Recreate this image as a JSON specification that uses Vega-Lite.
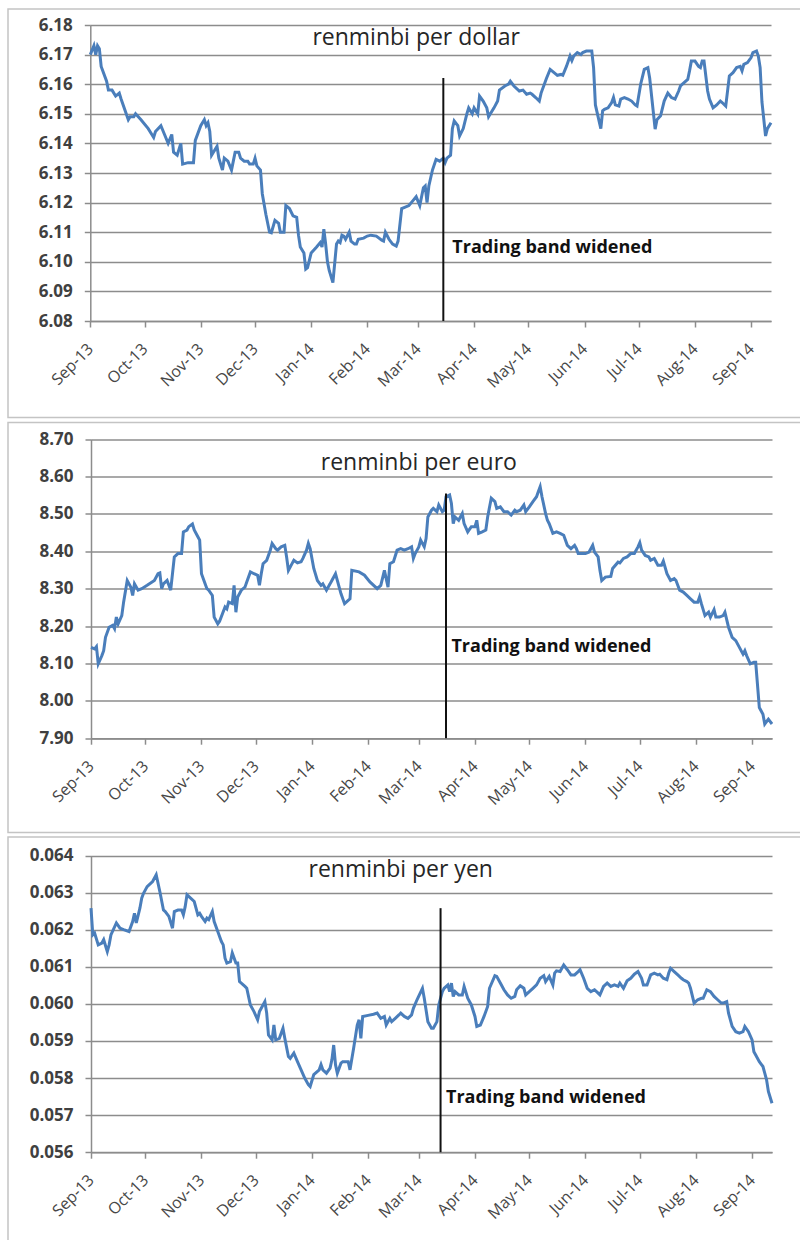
{
  "$schema": "https://vega.github.io/schema/vega-lite/v6.json",
  "padding": {"left": 7, "top": 8, "right": 0, "bottom": 0},
  "spacing": 4.5,
  "bounds": "flush",
  "background": "white",
  "config": {
    "axis": {
      "domainColor": "#8c8c8c", "domainWidth": 1.5,
      "tickColor": "#8c8c8c", "tickWidth": 1.5, "tickSize": 6,
      "gridColor": "#8c8c8c", "gridWidth": 1.5,
      "labelFont": "Open Sans", "labelColor": "#404040",
      "labelOverlap": false, "labelFlush": false, "labelBound": false,
      "title": null
    },
    "axisX": {"grid": false, "labelAngle": -45, "labelAlign": "right", "labelBaseline": "middle", "labelFontSize": 16, "labelPadding": 19, "labelColor": "#474747"},
    "axisY": {"grid": true, "labelFontSize": 17, "labelFontWeight": "bold", "labelPadding": 12}
  },
  "datasets": {
    "usd": [
      {"date":"2013-09-01","value":6.170},{"date":"2013-09-03","value":6.173},{"date":"2013-09-04","value":6.170},{"date":"2013-09-05","value":6.173},{"date":"2013-09-06","value":6.172},{"date":"2013-09-07","value":6.166},{"date":"2013-09-10","value":6.161},{"date":"2013-09-11","value":6.158},{"date":"2013-09-13","value":6.158},{"date":"2013-09-15","value":6.156},{"date":"2013-09-17","value":6.157},{"date":"2013-09-18","value":6.155},{"date":"2013-09-22","value":6.148},{"date":"2013-09-23","value":6.149},{"date":"2013-09-25","value":6.149},{"date":"2013-09-26","value":6.150},{"date":"2013-09-29","value":6.148},
      {"date":"2013-10-03","value":6.145},{"date":"2013-10-06","value":6.142},{"date":"2013-10-07","value":6.144},{"date":"2013-10-10","value":6.146},{"date":"2013-10-12","value":6.143},{"date":"2013-10-14","value":6.140},{"date":"2013-10-16","value":6.143},{"date":"2013-10-17","value":6.137},{"date":"2013-10-19","value":6.136},{"date":"2013-10-21","value":6.140},{"date":"2013-10-22","value":6.133},{"date":"2013-10-25","value":6.1335},{"date":"2013-10-28","value":6.1335},{"date":"2013-10-29","value":6.141},
      {"date":"2013-11-01","value":6.146},{"date":"2013-11-03","value":6.148},{"date":"2013-11-04","value":6.146},{"date":"2013-11-05","value":6.147},{"date":"2013-11-06","value":6.144},{"date":"2013-11-07","value":6.136},{"date":"2013-11-08","value":6.137},{"date":"2013-11-10","value":6.139},{"date":"2013-11-11","value":6.135},{"date":"2013-11-13","value":6.131},{"date":"2013-11-14","value":6.135},{"date":"2013-11-16","value":6.134},{"date":"2013-11-18","value":6.131},{"date":"2013-11-19","value":6.134},{"date":"2013-11-20","value":6.137},{"date":"2013-11-22","value":6.137},{"date":"2013-11-23","value":6.135},{"date":"2013-11-25","value":6.134},{"date":"2013-11-27","value":6.134},{"date":"2013-11-28","value":6.133},{"date":"2013-11-30","value":6.133},
      {"date":"2013-12-01","value":6.135},{"date":"2013-12-02","value":6.1324},{"date":"2013-12-04","value":6.131},{"date":"2013-12-05","value":6.123},{"date":"2013-12-07","value":6.116},{"date":"2013-12-09","value":6.110},{"date":"2013-12-10","value":6.1098},{"date":"2013-12-12","value":6.114},{"date":"2013-12-14","value":6.113},{"date":"2013-12-15","value":6.110},{"date":"2013-12-17","value":6.110},{"date":"2013-12-18","value":6.119},{"date":"2013-12-20","value":6.118},{"date":"2013-12-22","value":6.1155},{"date":"2013-12-24","value":6.115},{"date":"2013-12-25","value":6.109},{"date":"2013-12-26","value":6.105},{"date":"2013-12-28","value":6.103},{"date":"2013-12-29","value":6.0975},{"date":"2013-12-30","value":6.098},
      {"date":"2014-01-01","value":6.103},{"date":"2014-01-04","value":6.105},{"date":"2014-01-06","value":6.1065},{"date":"2014-01-07","value":6.105},{"date":"2014-01-08","value":6.111},{"date":"2014-01-09","value":6.106},{"date":"2014-01-10","value":6.100},{"date":"2014-01-11","value":6.097},{"date":"2014-01-13","value":6.093},{"date":"2014-01-15","value":6.106},{"date":"2014-01-16","value":6.107},{"date":"2014-01-17","value":6.1065},{"date":"2014-01-18","value":6.109},{"date":"2014-01-19","value":6.1087},{"date":"2014-01-20","value":6.1076},{"date":"2014-01-22","value":6.110},{"date":"2014-01-23","value":6.107},{"date":"2014-01-25","value":6.106},{"date":"2014-01-26","value":6.106},{"date":"2014-01-27","value":6.1076},{"date":"2014-01-30","value":6.108},
      {"date":"2014-02-01","value":6.1087},{"date":"2014-02-03","value":6.109},{"date":"2014-02-06","value":6.1087},{"date":"2014-02-09","value":6.1073},{"date":"2014-02-10","value":6.107},{"date":"2014-02-11","value":6.110},{"date":"2014-02-13","value":6.1076},{"date":"2014-02-15","value":6.106},{"date":"2014-02-17","value":6.1053},{"date":"2014-02-18","value":6.107},{"date":"2014-02-20","value":6.118},{"date":"2014-02-24","value":6.119},{"date":"2014-02-26","value":6.1205},{"date":"2014-02-28","value":6.122},
      {"date":"2014-03-01","value":6.1205},{"date":"2014-03-02","value":6.119},{"date":"2014-03-04","value":6.125},{"date":"2014-03-05","value":6.1256},{"date":"2014-03-06","value":6.120},{"date":"2014-03-07","value":6.1256},{"date":"2014-03-09","value":6.131},{"date":"2014-03-11","value":6.1346},{"date":"2014-03-13","value":6.134},{"date":"2014-03-15","value":6.135},{"date":"2014-03-16","value":6.1335},{"date":"2014-03-17","value":6.135},{"date":"2014-03-19","value":6.136},{"date":"2014-03-20","value":6.145},{"date":"2014-03-21","value":6.1476},{"date":"2014-03-23","value":6.146},{"date":"2014-03-24","value":6.1425},{"date":"2014-03-26","value":6.145},{"date":"2014-03-28","value":6.150},{"date":"2014-03-29","value":6.152},{"date":"2014-03-31","value":6.150},
      {"date":"2014-04-01","value":6.152},{"date":"2014-04-03","value":6.150},{"date":"2014-04-04","value":6.156},{"date":"2014-04-06","value":6.1543},{"date":"2014-04-08","value":6.152},{"date":"2014-04-09","value":6.149},{"date":"2014-04-10","value":6.150},{"date":"2014-04-12","value":6.152},{"date":"2014-04-14","value":6.1543},{"date":"2014-04-15","value":6.158},{"date":"2014-04-18","value":6.1594},{"date":"2014-04-20","value":6.160},{"date":"2014-04-21","value":6.161},{"date":"2014-04-23","value":6.1594},{"date":"2014-04-26","value":6.1577},{"date":"2014-04-28","value":6.158},{"date":"2014-04-30","value":6.1566},
      {"date":"2014-05-02","value":6.157},{"date":"2014-05-03","value":6.1566},{"date":"2014-05-05","value":6.1555},{"date":"2014-05-07","value":6.1543},{"date":"2014-05-08","value":6.157},{"date":"2014-05-11","value":6.162},{"date":"2014-05-13","value":6.165},{"date":"2014-05-15","value":6.164},{"date":"2014-05-17","value":6.163},{"date":"2014-05-19","value":6.1633},{"date":"2014-05-20","value":6.163},{"date":"2014-05-22","value":6.166},{"date":"2014-05-24","value":6.1695},{"date":"2014-05-25","value":6.168},{"date":"2014-05-26","value":6.1695},{"date":"2014-05-28","value":6.1707},{"date":"2014-05-30","value":6.170},{"date":"2014-05-31","value":6.1707},
      {"date":"2014-06-02","value":6.1712},{"date":"2014-06-05","value":6.1712},{"date":"2014-06-06","value":6.1656},{"date":"2014-06-07","value":6.153},{"date":"2014-06-10","value":6.145},{"date":"2014-06-11","value":6.151},{"date":"2014-06-12","value":6.1515},{"date":"2014-06-14","value":6.152},{"date":"2014-06-16","value":6.1538},{"date":"2014-06-17","value":6.1555},{"date":"2014-06-18","value":6.153},{"date":"2014-06-20","value":6.1526},{"date":"2014-06-21","value":6.155},{"date":"2014-06-23","value":6.1555},{"date":"2014-06-25","value":6.155},{"date":"2014-06-27","value":6.1543},{"date":"2014-06-29","value":6.153},{"date":"2014-06-30","value":6.1526},
      {"date":"2014-07-02","value":6.160},{"date":"2014-07-04","value":6.165},{"date":"2014-07-06","value":6.1656},{"date":"2014-07-07","value":6.162},{"date":"2014-07-10","value":6.1448},{"date":"2014-07-11","value":6.148},{"date":"2014-07-13","value":6.1493},{"date":"2014-07-15","value":6.1543},{"date":"2014-07-17","value":6.157},{"date":"2014-07-19","value":6.1555},{"date":"2014-07-21","value":6.155},{"date":"2014-07-23","value":6.1577},{"date":"2014-07-24","value":6.1594},{"date":"2014-07-26","value":6.1605},{"date":"2014-07-28","value":6.1616},{"date":"2014-07-29","value":6.1645},{"date":"2014-07-30","value":6.1678},
      {"date":"2014-08-01","value":6.1678},{"date":"2014-08-03","value":6.166},{"date":"2014-08-04","value":6.1656},{"date":"2014-08-05","value":6.1678},{"date":"2014-08-06","value":6.1678},{"date":"2014-08-08","value":6.1577},{"date":"2014-08-09","value":6.155},{"date":"2014-08-11","value":6.152},{"date":"2014-08-13","value":6.153},{"date":"2014-08-15","value":6.1543},{"date":"2014-08-16","value":6.1538},{"date":"2014-08-18","value":6.1526},{"date":"2014-08-20","value":6.1628},{"date":"2014-08-22","value":6.1639},{"date":"2014-08-24","value":6.1656},{"date":"2014-08-26","value":6.166},{"date":"2014-08-27","value":6.1645},{"date":"2014-08-28","value":6.1667},{"date":"2014-08-30","value":6.1673},
      {"date":"2014-09-01","value":6.169},{"date":"2014-09-02","value":6.1707},{"date":"2014-09-04","value":6.1712},{"date":"2014-09-05","value":6.1695},{"date":"2014-09-06","value":6.1656},{"date":"2014-09-07","value":6.154},{"date":"2014-09-09","value":6.1425},{"date":"2014-09-10","value":6.145},{"date":"2014-09-12","value":6.147}
    ],
    "eur": [
      {"date":"2013-09-01","value":8.143},{"date":"2013-09-03","value":8.139},{"date":"2013-09-04","value":8.145},{"date":"2013-09-05","value":8.099},{"date":"2013-09-07","value":8.121},{"date":"2013-09-08","value":8.134},{"date":"2013-09-09","value":8.170},{"date":"2013-09-11","value":8.197},{"date":"2013-09-13","value":8.202},{"date":"2013-09-14","value":8.193},{"date":"2013-09-15","value":8.224},{"date":"2013-09-16","value":8.206},{"date":"2013-09-18","value":8.228},{"date":"2013-09-19","value":8.264},{"date":"2013-09-21","value":8.322},{"date":"2013-09-23","value":8.304},{"date":"2013-09-24","value":8.282},{"date":"2013-09-25","value":8.313},{"date":"2013-09-27","value":8.296},{"date":"2013-09-29","value":8.300},
      {"date":"2013-10-02","value":8.309},{"date":"2013-10-06","value":8.322},{"date":"2013-10-08","value":8.340},{"date":"2013-10-09","value":8.342},{"date":"2013-10-10","value":8.300},{"date":"2013-10-11","value":8.313},{"date":"2013-10-13","value":8.322},{"date":"2013-10-14","value":8.309},{"date":"2013-10-15","value":8.296},{"date":"2013-10-17","value":8.385},{"date":"2013-10-19","value":8.394},{"date":"2013-10-21","value":8.394},{"date":"2013-10-22","value":8.452},{"date":"2013-10-24","value":8.457},{"date":"2013-10-25","value":8.466},{"date":"2013-10-27","value":8.473},{"date":"2013-10-28","value":8.457},{"date":"2013-10-30","value":8.439},{"date":"2013-10-31","value":8.430},
      {"date":"2013-11-01","value":8.340},{"date":"2013-11-03","value":8.313},{"date":"2013-11-04","value":8.300},{"date":"2013-11-05","value":8.296},{"date":"2013-11-07","value":8.282},{"date":"2013-11-08","value":8.224},{"date":"2013-11-10","value":8.206},{"date":"2013-11-11","value":8.213},{"date":"2013-11-14","value":8.251},{"date":"2013-11-15","value":8.246},{"date":"2013-11-16","value":8.264},{"date":"2013-11-18","value":8.260},{"date":"2013-11-19","value":8.309},{"date":"2013-11-20","value":8.237},{"date":"2013-11-21","value":8.278},{"date":"2013-11-23","value":8.296},{"date":"2013-11-25","value":8.304},{"date":"2013-11-26","value":8.318},{"date":"2013-11-28","value":8.345},{"date":"2013-11-30","value":8.340},
      {"date":"2013-12-02","value":8.336},{"date":"2013-12-03","value":8.309},{"date":"2013-12-04","value":8.340},{"date":"2013-12-05","value":8.367},{"date":"2013-12-07","value":8.376},{"date":"2013-12-09","value":8.403},{"date":"2013-12-10","value":8.421},{"date":"2013-12-12","value":8.407},{"date":"2013-12-13","value":8.403},{"date":"2013-12-15","value":8.412},{"date":"2013-12-17","value":8.416},{"date":"2013-12-18","value":8.385},{"date":"2013-12-19","value":8.349},{"date":"2013-12-21","value":8.367},{"date":"2013-12-22","value":8.376},{"date":"2013-12-24","value":8.369},{"date":"2013-12-26","value":8.372},{"date":"2013-12-27","value":8.381},{"date":"2013-12-29","value":8.403},{"date":"2013-12-30","value":8.421},{"date":"2013-12-31","value":8.407},
      {"date":"2014-01-02","value":8.354},{"date":"2014-01-04","value":8.322},{"date":"2014-01-06","value":8.309},{"date":"2014-01-07","value":8.313},{"date":"2014-01-09","value":8.296},{"date":"2014-01-11","value":8.313},{"date":"2014-01-12","value":8.322},{"date":"2014-01-14","value":8.340},{"date":"2014-01-15","value":8.322},{"date":"2014-01-17","value":8.287},{"date":"2014-01-19","value":8.260},{"date":"2014-01-21","value":8.269},{"date":"2014-01-22","value":8.273},{"date":"2014-01-23","value":8.349},{"date":"2014-01-27","value":8.345},{"date":"2014-01-30","value":8.336},
      {"date":"2014-02-02","value":8.318},{"date":"2014-02-06","value":8.300},{"date":"2014-02-08","value":8.309},{"date":"2014-02-10","value":8.349},{"date":"2014-02-12","value":8.304},{"date":"2014-02-13","value":8.367},{"date":"2014-02-15","value":8.372},{"date":"2014-02-17","value":8.403},{"date":"2014-02-19","value":8.407},{"date":"2014-02-21","value":8.403},{"date":"2014-02-23","value":8.407},{"date":"2014-02-25","value":8.412},{"date":"2014-02-26","value":8.381},{"date":"2014-02-27","value":8.394},
      {"date":"2014-03-01","value":8.412},{"date":"2014-03-02","value":8.430},{"date":"2014-03-04","value":8.412},{"date":"2014-03-05","value":8.434},{"date":"2014-03-06","value":8.492},{"date":"2014-03-08","value":8.510},{"date":"2014-03-09","value":8.515},{"date":"2014-03-11","value":8.506},{"date":"2014-03-12","value":8.524},{"date":"2014-03-14","value":8.506},{"date":"2014-03-15","value":8.510},{"date":"2014-03-16","value":8.546},{"date":"2014-03-18","value":8.551},{"date":"2014-03-19","value":8.528},{"date":"2014-03-20","value":8.474},{"date":"2014-03-21","value":8.492},{"date":"2014-03-23","value":8.483},{"date":"2014-03-25","value":8.501},{"date":"2014-03-26","value":8.474},{"date":"2014-03-28","value":8.452},{"date":"2014-03-30","value":8.466},
      {"date":"2014-04-01","value":8.466},{"date":"2014-04-02","value":8.483},{"date":"2014-04-03","value":8.448},{"date":"2014-04-05","value":8.452},{"date":"2014-04-07","value":8.457},{"date":"2014-04-08","value":8.492},{"date":"2014-04-10","value":8.542},{"date":"2014-04-12","value":8.533},{"date":"2014-04-13","value":8.515},{"date":"2014-04-15","value":8.519},{"date":"2014-04-17","value":8.506},{"date":"2014-04-19","value":8.506},{"date":"2014-04-21","value":8.497},{"date":"2014-04-23","value":8.510},{"date":"2014-04-24","value":8.506},{"date":"2014-04-26","value":8.510},{"date":"2014-04-28","value":8.524},{"date":"2014-04-29","value":8.506},
      {"date":"2014-05-01","value":8.519},{"date":"2014-05-03","value":8.533},{"date":"2014-05-05","value":8.546},{"date":"2014-05-06","value":8.560},{"date":"2014-05-07","value":8.573},{"date":"2014-05-08","value":8.546},{"date":"2014-05-10","value":8.501},{"date":"2014-05-11","value":8.483},{"date":"2014-05-12","value":8.474},{"date":"2014-05-14","value":8.448},{"date":"2014-05-16","value":8.452},{"date":"2014-05-18","value":8.448},{"date":"2014-05-20","value":8.443},{"date":"2014-05-22","value":8.416},{"date":"2014-05-24","value":8.407},{"date":"2014-05-26","value":8.416},{"date":"2014-05-27","value":8.407},{"date":"2014-05-28","value":8.394},{"date":"2014-05-30","value":8.394},
      {"date":"2014-06-01","value":8.394},{"date":"2014-06-03","value":8.398},{"date":"2014-06-05","value":8.416},{"date":"2014-06-06","value":8.398},{"date":"2014-06-08","value":8.385},{"date":"2014-06-09","value":8.349},{"date":"2014-06-10","value":8.322},{"date":"2014-06-12","value":8.331},{"date":"2014-06-15","value":8.333},{"date":"2014-06-16","value":8.354},{"date":"2014-06-19","value":8.371},{"date":"2014-06-20","value":8.369},{"date":"2014-06-22","value":8.381},{"date":"2014-06-24","value":8.385},{"date":"2014-06-26","value":8.394},{"date":"2014-06-28","value":8.394},{"date":"2014-06-30","value":8.412},
      {"date":"2014-07-01","value":8.423},{"date":"2014-07-02","value":8.403},{"date":"2014-07-04","value":8.389},{"date":"2014-07-06","value":8.385},{"date":"2014-07-07","value":8.376},{"date":"2014-07-09","value":8.381},{"date":"2014-07-11","value":8.363},{"date":"2014-07-13","value":8.363},{"date":"2014-07-14","value":8.374},{"date":"2014-07-16","value":8.340},{"date":"2014-07-18","value":8.322},{"date":"2014-07-20","value":8.327},{"date":"2014-07-21","value":8.322},{"date":"2014-07-23","value":8.296},{"date":"2014-07-25","value":8.291},{"date":"2014-07-27","value":8.282},{"date":"2014-07-29","value":8.273},{"date":"2014-07-31","value":8.264},
      {"date":"2014-08-02","value":8.264},{"date":"2014-08-03","value":8.278},{"date":"2014-08-04","value":8.260},{"date":"2014-08-06","value":8.228},{"date":"2014-08-08","value":8.237},{"date":"2014-08-09","value":8.224},{"date":"2014-08-11","value":8.244},{"date":"2014-08-12","value":8.224},{"date":"2014-08-14","value":8.224},{"date":"2014-08-16","value":8.228},{"date":"2014-08-17","value":8.237},{"date":"2014-08-19","value":8.197},{"date":"2014-08-21","value":8.170},{"date":"2014-08-23","value":8.161},{"date":"2014-08-25","value":8.143},{"date":"2014-08-27","value":8.125},{"date":"2014-08-28","value":8.134},{"date":"2014-08-29","value":8.121},{"date":"2014-08-31","value":8.099},
      {"date":"2014-09-02","value":8.103},{"date":"2014-09-03","value":8.103},{"date":"2014-09-05","value":7.982},{"date":"2014-09-07","value":7.964},{"date":"2014-09-08","value":7.938},{"date":"2014-09-10","value":7.951},{"date":"2014-09-12","value":7.938}
    ],
    "jpy": [
      {"date":"2013-09-01","value":0.06258},{"date":"2013-09-02","value":0.06186},{"date":"2013-09-03","value":0.06191},{"date":"2013-09-05","value":0.06159},{"date":"2013-09-07","value":0.06164},{"date":"2013-09-08","value":0.06173},{"date":"2013-09-10","value":0.06141},{"date":"2013-09-11","value":0.06159},{"date":"2013-09-12","value":0.06186},{"date":"2013-09-15","value":0.06218},{"date":"2013-09-17","value":0.06204},{"date":"2013-09-19","value":0.06200},{"date":"2013-09-22","value":0.06195},{"date":"2013-09-24","value":0.06222},{"date":"2013-09-25","value":0.06244},{"date":"2013-09-26","value":0.06218},{"date":"2013-09-28","value":0.06258},{"date":"2013-09-29","value":0.06285},{"date":"2013-09-30","value":0.06298},
      {"date":"2013-10-02","value":0.06316},{"date":"2013-10-05","value":0.06330},{"date":"2013-10-07","value":0.06348},{"date":"2013-10-09","value":0.06303},{"date":"2013-10-11","value":0.06253},{"date":"2013-10-12","value":0.06249},{"date":"2013-10-14","value":0.06236},{"date":"2013-10-16","value":0.06204},{"date":"2013-10-17","value":0.06249},{"date":"2013-10-19","value":0.06253},{"date":"2013-10-21","value":0.06253},{"date":"2013-10-22","value":0.06240},{"date":"2013-10-23","value":0.06262},{"date":"2013-10-24","value":0.06294},{"date":"2013-10-26","value":0.06285},{"date":"2013-10-28","value":0.06276},{"date":"2013-10-30","value":0.06240},{"date":"2013-10-31","value":0.06244},
      {"date":"2013-11-01","value":0.06236},{"date":"2013-11-03","value":0.06222},{"date":"2013-11-04","value":0.06231},{"date":"2013-11-05","value":0.06227},{"date":"2013-11-07","value":0.06249},{"date":"2013-11-08","value":0.06222},{"date":"2013-11-10","value":0.06195},{"date":"2013-11-12","value":0.06168},{"date":"2013-11-13","value":0.06159},{"date":"2013-11-14","value":0.06123},{"date":"2013-11-15","value":0.06110},{"date":"2013-11-17","value":0.06114},{"date":"2013-11-18","value":0.06137},{"date":"2013-11-20","value":0.06110},{"date":"2013-11-21","value":0.06110},{"date":"2013-11-22","value":0.06060},{"date":"2013-11-25","value":0.06047},{"date":"2013-11-26","value":0.06042},{"date":"2013-11-28","value":0.05997},{"date":"2013-11-30","value":0.05979},
      {"date":"2013-12-02","value":0.05957},{"date":"2013-12-03","value":0.05979},{"date":"2013-12-04","value":0.05988},{"date":"2013-12-06","value":0.06006},{"date":"2013-12-07","value":0.05975},{"date":"2013-12-08","value":0.05916},{"date":"2013-12-10","value":0.05903},{"date":"2013-12-11","value":0.05943},{"date":"2013-12-12","value":0.05903},{"date":"2013-12-14","value":0.05907},{"date":"2013-12-16","value":0.05934},{"date":"2013-12-17","value":0.05907},{"date":"2013-12-19","value":0.05858},{"date":"2013-12-20","value":0.05853},{"date":"2013-12-22","value":0.05867},{"date":"2013-12-24","value":0.05844},{"date":"2013-12-26","value":0.05822},{"date":"2013-12-28","value":0.05800},{"date":"2013-12-30","value":0.05782},{"date":"2013-12-31","value":0.05777},
      {"date":"2014-01-02","value":0.05809},{"date":"2014-01-05","value":0.05822},{"date":"2014-01-06","value":0.05836},{"date":"2014-01-07","value":0.05822},{"date":"2014-01-09","value":0.05813},{"date":"2014-01-11","value":0.05827},{"date":"2014-01-12","value":0.05849},{"date":"2014-01-13","value":0.05889},{"date":"2014-01-14","value":0.05836},{"date":"2014-01-15","value":0.05813},{"date":"2014-01-17","value":0.05840},{"date":"2014-01-18","value":0.05844},{"date":"2014-01-21","value":0.05844},{"date":"2014-01-22","value":0.05822},{"date":"2014-01-24","value":0.05880},{"date":"2014-01-26","value":0.05943},{"date":"2014-01-27","value":0.05957},{"date":"2014-01-28","value":0.05907},{"date":"2014-01-29","value":0.05966},
      {"date":"2014-02-01","value":0.05969},{"date":"2014-02-04","value":0.05972},{"date":"2014-02-06","value":0.05975},{"date":"2014-02-08","value":0.05961},{"date":"2014-02-10","value":0.05966},{"date":"2014-02-11","value":0.05943},{"date":"2014-02-13","value":0.05961},{"date":"2014-02-14","value":0.05952},{"date":"2014-02-16","value":0.05961},{"date":"2014-02-18","value":0.05970},{"date":"2014-02-19","value":0.05975},{"date":"2014-02-21","value":0.05966},{"date":"2014-02-23","value":0.05961},{"date":"2014-02-25","value":0.05970},{"date":"2014-02-26","value":0.05988},{"date":"2014-02-28","value":0.06011},
      {"date":"2014-03-03","value":0.06042},{"date":"2014-03-04","value":0.06015},{"date":"2014-03-06","value":0.05952},{"date":"2014-03-08","value":0.05934},{"date":"2014-03-09","value":0.05934},{"date":"2014-03-11","value":0.05952},{"date":"2014-03-12","value":0.05997},{"date":"2014-03-14","value":0.06033},{"date":"2014-03-15","value":0.06042},{"date":"2014-03-17","value":0.06051},{"date":"2014-03-18","value":0.06033},{"date":"2014-03-19","value":0.06056},{"date":"2014-03-20","value":0.06020},{"date":"2014-03-21","value":0.06033},{"date":"2014-03-23","value":0.06024},{"date":"2014-03-25","value":0.06024},{"date":"2014-03-26","value":0.06047},{"date":"2014-03-28","value":0.06015},{"date":"2014-03-30","value":0.05997},
      {"date":"2014-04-01","value":0.05966},{"date":"2014-04-02","value":0.05939},{"date":"2014-04-04","value":0.05943},{"date":"2014-04-06","value":0.05966},{"date":"2014-04-08","value":0.05993},{"date":"2014-04-09","value":0.06042},{"date":"2014-04-12","value":0.06076},{"date":"2014-04-13","value":0.06074},{"date":"2014-04-15","value":0.06056},{"date":"2014-04-17","value":0.06038},{"date":"2014-04-19","value":0.06024},{"date":"2014-04-21","value":0.06015},{"date":"2014-04-23","value":0.06020},{"date":"2014-04-24","value":0.06038},{"date":"2014-04-26","value":0.06049},{"date":"2014-04-28","value":0.06042},{"date":"2014-04-29","value":0.06024},
      {"date":"2014-05-01","value":0.06033},{"date":"2014-05-03","value":0.06042},{"date":"2014-05-05","value":0.06051},{"date":"2014-05-06","value":0.06060},{"date":"2014-05-07","value":0.06069},{"date":"2014-05-09","value":0.06076},{"date":"2014-05-10","value":0.06060},{"date":"2014-05-12","value":0.06074},{"date":"2014-05-14","value":0.06051},{"date":"2014-05-15","value":0.06083},{"date":"2014-05-16","value":0.06089},{"date":"2014-05-18","value":0.06087},{"date":"2014-05-20","value":0.06105},{"date":"2014-05-22","value":0.06092},{"date":"2014-05-24","value":0.06078},{"date":"2014-05-26","value":0.06078},{"date":"2014-05-28","value":0.06087},{"date":"2014-05-29","value":0.06092},{"date":"2014-05-31","value":0.06069},
      {"date":"2014-06-02","value":0.06042},{"date":"2014-06-04","value":0.06033},{"date":"2014-06-06","value":0.06038},{"date":"2014-06-08","value":0.06029},{"date":"2014-06-09","value":0.06024},{"date":"2014-06-11","value":0.06047},{"date":"2014-06-13","value":0.06056},{"date":"2014-06-15","value":0.06047},{"date":"2014-06-17","value":0.06051},{"date":"2014-06-19","value":0.06047},{"date":"2014-06-20","value":0.06056},{"date":"2014-06-22","value":0.06042},{"date":"2014-06-24","value":0.06062},{"date":"2014-06-26","value":0.06069},{"date":"2014-06-28","value":0.06080},{"date":"2014-06-30","value":0.06087},
      {"date":"2014-07-02","value":0.06069},{"date":"2014-07-03","value":0.06051},{"date":"2014-07-05","value":0.06051},{"date":"2014-07-07","value":0.06078},{"date":"2014-07-09","value":0.06083},{"date":"2014-07-11","value":0.06078},{"date":"2014-07-12","value":0.06080},{"date":"2014-07-14","value":0.06069},{"date":"2014-07-16","value":0.06065},{"date":"2014-07-17","value":0.06083},{"date":"2014-07-18","value":0.06096},{"date":"2014-07-20","value":0.06087},{"date":"2014-07-22","value":0.06078},{"date":"2014-07-24","value":0.06069},{"date":"2014-07-25","value":0.06065},{"date":"2014-07-27","value":0.06060},{"date":"2014-07-28","value":0.06056},{"date":"2014-07-29","value":0.06042},{"date":"2014-07-31","value":0.06002},
      {"date":"2014-08-02","value":0.06011},{"date":"2014-08-04","value":0.06015},{"date":"2014-08-05","value":0.06015},{"date":"2014-08-07","value":0.06038},{"date":"2014-08-09","value":0.06033},{"date":"2014-08-11","value":0.06020},{"date":"2014-08-13","value":0.06011},{"date":"2014-08-15","value":0.06002},{"date":"2014-08-16","value":0.06002},{"date":"2014-08-18","value":0.06006},{"date":"2014-08-19","value":0.05975},{"date":"2014-08-21","value":0.05939},{"date":"2014-08-23","value":0.05925},{"date":"2014-08-25","value":0.05921},{"date":"2014-08-27","value":0.05925},{"date":"2014-08-28","value":0.05939},{"date":"2014-08-30","value":0.05925},
      {"date":"2014-09-01","value":0.05903},{"date":"2014-09-02","value":0.05871},{"date":"2014-09-03","value":0.05862},{"date":"2014-09-05","value":0.05844},{"date":"2014-09-07","value":0.05831},{"date":"2014-09-08","value":0.05813},{"date":"2014-09-09","value":0.05795},{"date":"2014-09-10","value":0.05764},{"date":"2014-09-12","value":0.05732}
    ],
    "notes": [
      {"panel":"usd","kind":"title","label":"renminbi per dollar","date":"2014-02-28","value":6.1757},
      {"panel":"usd","kind":"band","label":"Trading band widened","date":"2014-03-20","value":6.1048},
      {"panel":"usd","kind":"rule","label":"","date":"2014-03-15","value":6.1621,"bottom":6.08},
      {"panel":"eur","kind":"title","label":"renminbi per euro","date":"2014-03-01","value":8.6358},
      {"panel":"eur","kind":"band","label":"Trading band widened","date":"2014-03-19","value":8.145},
      {"panel":"eur","kind":"rule","label":"","date":"2014-03-16","value":8.5547,"bottom":7.90},
      {"panel":"jpy","kind":"title","label":"renminbi per yen","date":"2014-02-19","value":0.063596},
      {"panel":"jpy","kind":"band","label":"Trading band widened","date":"2014-03-16","value":0.057456},
      {"panel":"jpy","kind":"rule","label":"","date":"2014-03-13","value":0.06258,"bottom":0.056}
    ]
  },
  "vconcat": [
    {
      "width": 792, "height": 408.5,
      "view": {"stroke": "#c4c4c4", "strokeWidth": 1.5, "strokeDash": [792, 408.5, 1200.5]},
      "layer": [
        {
          "data": {"name": "usd"},
          "mark": {"type": "line", "color": "#4a7ebb", "strokeWidth": 3},
          "encoding": {
            "x": {"field": "date", "type": "temporal", "title": null,
              "scale": {"type": "utc", "nice": false, "domain": [{"year": 2013, "month": 9, "date": 1, "utc": true}, {"year": 2014, "month": 9, "date": 12, "utc": true}], "range": [82.3, 763]},
              "axis": {"offset": -96.5, "format": "%b-%y", "values": [{"year":2013,"month":9,"date":1,"utc":true},{"year":2013,"month":10,"date":1,"utc":true},{"year":2013,"month":11,"date":1,"utc":true},{"year":2013,"month":12,"date":1,"utc":true},{"year":2014,"month":1,"date":1,"utc":true},{"year":2014,"month":2,"date":1,"utc":true},{"year":2014,"month":3,"date":1,"utc":true},{"year":2014,"month":4,"date":1,"utc":true},{"year":2014,"month":5,"date":1,"utc":true},{"year":2014,"month":6,"date":1,"utc":true},{"year":2014,"month":7,"date":1,"utc":true},{"year":2014,"month":8,"date":1,"utc":true},{"year":2014,"month":9,"date":1,"utc":true}]}},
            "y": {"field": "value", "type": "quantitative", "title": null,
              "scale": {"domain": [6.08, 6.18], "range": [312, 16], "nice": false, "zero": false},
              "axis": {"offset": -82.3, "format": ".2f", "values": [6.08, 6.09, 6.10, 6.11, 6.12, 6.13, 6.14, 6.15, 6.16, 6.17, 6.18]}}
          }
        },
        {
          "data": {"name": "notes"},
          "transform": [{"filter": "datum.panel === 'usd' && datum.kind === 'rule'"}],
          "mark": {"type": "rule", "color": "#111111", "strokeWidth": 2},
          "encoding": {
            "x": {"field": "date", "type": "temporal", "title": null},
            "y": {"field": "value", "type": "quantitative", "title": null},
            "y2": {"field": "bottom"}
          }
        },
        {
          "data": {"name": "notes"},
          "transform": [{"filter": "datum.panel === 'usd' && datum.kind === 'title'"}],
          "mark": {"type": "text", "font": "Open Sans", "fontSize": 23, "color": "#262626", "align": "center", "baseline": "middle"},
          "encoding": {
            "x": {"field": "date", "type": "temporal", "title": null},
            "y": {"field": "value", "type": "quantitative", "title": null},
            "text": {"field": "label"}
          }
        },
        {
          "data": {"name": "notes"},
          "transform": [{"filter": "datum.panel === 'usd' && datum.kind === 'band'"}],
          "mark": {"type": "text", "font": "Open Sans", "fontSize": 18, "fontWeight": "bold", "color": "#111111", "align": "left", "baseline": "middle"},
          "encoding": {
            "x": {"field": "date", "type": "temporal", "title": null},
            "y": {"field": "value", "type": "quantitative", "title": null},
            "text": {"field": "label"}
          }
        }
      ]
    },
    {
      "width": 792, "height": 410,
      "view": {"stroke": "#c4c4c4", "strokeWidth": 1.5, "strokeDash": [792, 410, 1202]},
      "layer": [
        {
          "data": {"name": "eur"},
          "mark": {"type": "line", "color": "#4a7ebb", "strokeWidth": 3},
          "encoding": {
            "x": {"field": "date", "type": "temporal", "title": null,
              "scale": {"type": "utc", "nice": false, "domain": [{"year": 2013, "month": 9, "date": 1, "utc": true}, {"year": 2014, "month": 9, "date": 12, "utc": true}], "range": [83, 764]},
              "axis": {"offset": -94.3, "format": "%b-%y", "values": [{"year":2013,"month":9,"date":1,"utc":true},{"year":2013,"month":10,"date":1,"utc":true},{"year":2013,"month":11,"date":1,"utc":true},{"year":2013,"month":12,"date":1,"utc":true},{"year":2014,"month":1,"date":1,"utc":true},{"year":2014,"month":2,"date":1,"utc":true},{"year":2014,"month":3,"date":1,"utc":true},{"year":2014,"month":4,"date":1,"utc":true},{"year":2014,"month":5,"date":1,"utc":true},{"year":2014,"month":6,"date":1,"utc":true},{"year":2014,"month":7,"date":1,"utc":true},{"year":2014,"month":8,"date":1,"utc":true},{"year":2014,"month":9,"date":1,"utc":true}]}},
            "y": {"field": "value", "type": "quantitative", "title": null,
              "scale": {"domain": [7.90, 8.70], "range": [315.7, 16.7], "nice": false, "zero": false},
              "axis": {"offset": -83, "format": ".2f", "values": [7.9, 8.0, 8.1, 8.2, 8.3, 8.4, 8.5, 8.6, 8.7]}}
          }
        },
        {
          "data": {"name": "notes"},
          "transform": [{"filter": "datum.panel === 'eur' && datum.kind === 'rule'"}],
          "mark": {"type": "rule", "color": "#111111", "strokeWidth": 2},
          "encoding": {
            "x": {"field": "date", "type": "temporal", "title": null},
            "y": {"field": "value", "type": "quantitative", "title": null},
            "y2": {"field": "bottom"}
          }
        },
        {
          "data": {"name": "notes"},
          "transform": [{"filter": "datum.panel === 'eur' && datum.kind === 'title'"}],
          "mark": {"type": "text", "font": "Open Sans", "fontSize": 23, "color": "#262626", "align": "center", "baseline": "middle"},
          "encoding": {
            "x": {"field": "date", "type": "temporal", "title": null},
            "y": {"field": "value", "type": "quantitative", "title": null},
            "text": {"field": "label"}
          }
        },
        {
          "data": {"name": "notes"},
          "transform": [{"filter": "datum.panel === 'eur' && datum.kind === 'band'"}],
          "mark": {"type": "text", "font": "Open Sans", "fontSize": 18, "fontWeight": "bold", "color": "#111111", "align": "left", "baseline": "middle"},
          "encoding": {
            "x": {"field": "date", "type": "temporal", "title": null},
            "y": {"field": "value", "type": "quantitative", "title": null},
            "text": {"field": "label"}
          }
        }
      ]
    },
    {
      "width": 792, "height": 404,
      "view": {"stroke": "#c4c4c4", "strokeWidth": 1.5, "strokeDash": [792, 1196, 404]},
      "layer": [
        {
          "data": {"name": "jpy"},
          "mark": {"type": "line", "color": "#4a7ebb", "strokeWidth": 3},
          "encoding": {
            "x": {"field": "date", "type": "temporal", "title": null,
              "scale": {"type": "utc", "nice": false, "domain": [{"year": 2013, "month": 9, "date": 1, "utc": true}, {"year": 2014, "month": 9, "date": 12, "utc": true}], "range": [83, 764]},
              "axis": {"offset": -88.8, "format": "%b-%y", "values": [{"year":2013,"month":9,"date":1,"utc":true},{"year":2013,"month":10,"date":1,"utc":true},{"year":2013,"month":11,"date":1,"utc":true},{"year":2013,"month":12,"date":1,"utc":true},{"year":2014,"month":1,"date":1,"utc":true},{"year":2014,"month":2,"date":1,"utc":true},{"year":2014,"month":3,"date":1,"utc":true},{"year":2014,"month":4,"date":1,"utc":true},{"year":2014,"month":5,"date":1,"utc":true},{"year":2014,"month":6,"date":1,"utc":true},{"year":2014,"month":7,"date":1,"utc":true},{"year":2014,"month":8,"date":1,"utc":true},{"year":2014,"month":9,"date":1,"utc":true}]}},
            "y": {"field": "value", "type": "quantitative", "title": null,
              "scale": {"domain": [0.056, 0.064], "range": [315.2, 18.5], "nice": false, "zero": false},
              "axis": {"offset": -83, "format": ".3f", "values": [0.056, 0.057, 0.058, 0.059, 0.060, 0.061, 0.062, 0.063, 0.064]}}
          }
        },
        {
          "data": {"name": "notes"},
          "transform": [{"filter": "datum.panel === 'jpy' && datum.kind === 'rule'"}],
          "mark": {"type": "rule", "color": "#111111", "strokeWidth": 2},
          "encoding": {
            "x": {"field": "date", "type": "temporal", "title": null},
            "y": {"field": "value", "type": "quantitative", "title": null},
            "y2": {"field": "bottom"}
          }
        },
        {
          "data": {"name": "notes"},
          "transform": [{"filter": "datum.panel === 'jpy' && datum.kind === 'title'"}],
          "mark": {"type": "text", "font": "Open Sans", "fontSize": 23, "color": "#262626", "align": "center", "baseline": "middle"},
          "encoding": {
            "x": {"field": "date", "type": "temporal", "title": null},
            "y": {"field": "value", "type": "quantitative", "title": null},
            "text": {"field": "label"}
          }
        },
        {
          "data": {"name": "notes"},
          "transform": [{"filter": "datum.panel === 'jpy' && datum.kind === 'band'"}],
          "mark": {"type": "text", "font": "Open Sans", "fontSize": 18, "fontWeight": "bold", "color": "#111111", "align": "left", "baseline": "middle"},
          "encoding": {
            "x": {"field": "date", "type": "temporal", "title": null},
            "y": {"field": "value", "type": "quantitative", "title": null},
            "text": {"field": "label"}
          }
        }
      ]
    }
  ]
}
